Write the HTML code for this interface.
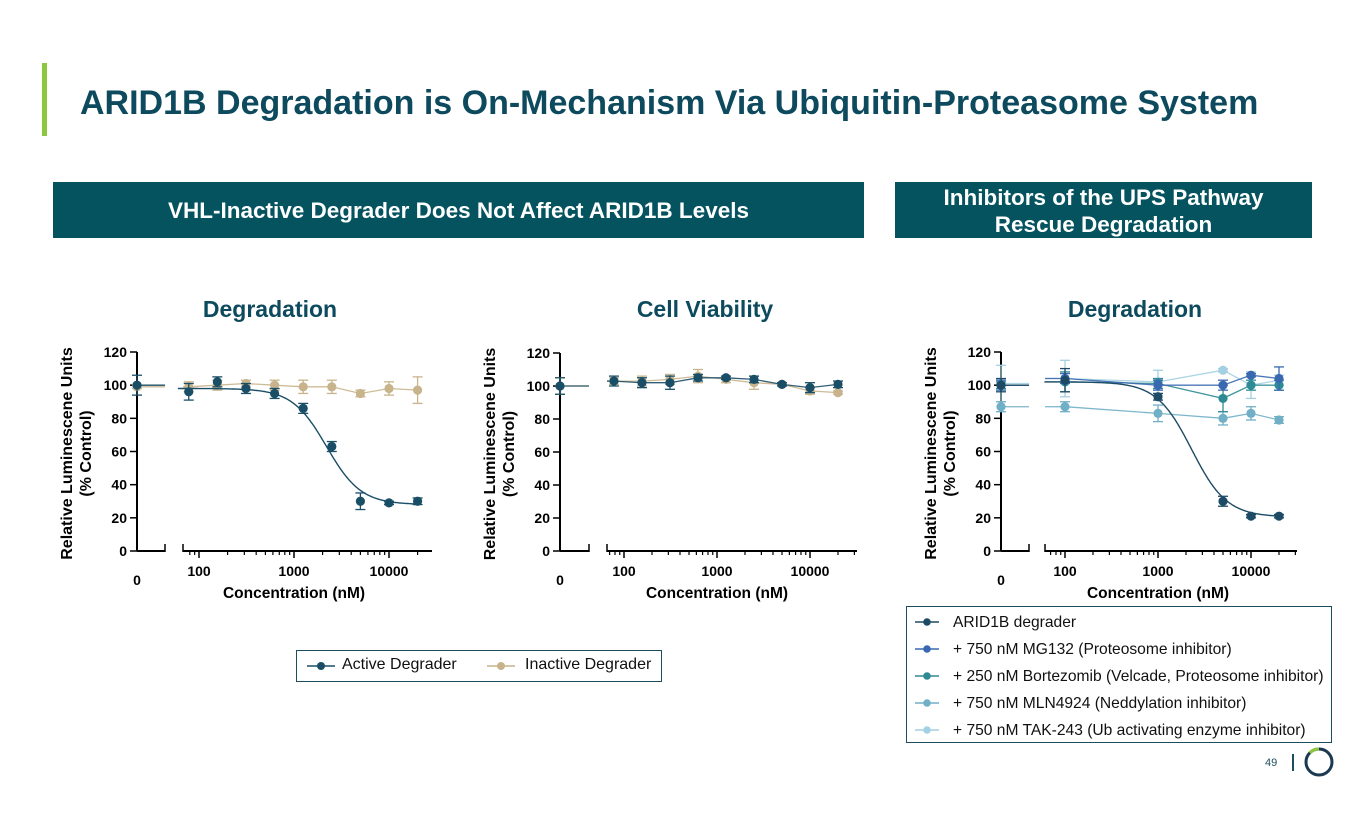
<!DOCTYPE html>
<html><head><meta charset="utf-8">
<style>
body{margin:0;width:1365px;height:829px;background:#fff;overflow:hidden;font-family:"Liberation Sans",Arial,sans-serif;position:relative}
.abs{position:absolute}
.hdr{background:#04535f;color:#fff;font-weight:bold;font-size:22.5px;text-align:center;display:flex;align-items:center;justify-content:center;line-height:27px}
.ct{color:#0d4a5e;font-weight:bold;font-size:23px;text-align:center}
.leg{border:1.5px solid #1d4e5f;box-sizing:border-box;font-size:15.6px;color:#111}
</style></head><body>
<div class="abs" style="left:42px;top:63px;width:5px;height:73px;background:#8dc63f"></div>
<div class="abs" style="left:80px;top:84px;font-size:34px;font-weight:bold;color:#0d4a5e;white-space:nowrap">ARID1B Degradation is On-Mechanism Via Ubiquitin-Proteasome System</div>
<div class="abs hdr" style="left:53px;top:182px;width:811px;height:56px">VHL-Inactive Degrader Does Not Affect ARID1B Levels</div>
<div class="abs hdr" style="left:895px;top:182px;width:417px;height:56px;padding-top:2px;box-sizing:border-box">Inhibitors of the UPS Pathway<br>Rescue Degradation</div>
<div class="abs ct" style="left:150px;top:296px;width:240px">Degradation</div>
<div class="abs ct" style="left:585px;top:296px;width:240px">Cell Viability</div>
<div class="abs ct" style="left:1015px;top:296px;width:240px">Degradation</div>
<svg id="sv" class="abs" style="left:0;top:0" width="1365" height="829"></svg>
<div class="abs leg" style="left:296px;top:650px;width:366px;height:32px">
 <svg class="abs" style="left:10px;top:8px" width="30" height="14"><line x1="0" y1="7" x2="28" y2="7" stroke="#1a4e66" stroke-width="1.5"/><circle cx="14" cy="7" r="4" fill="#1a4e66"/></svg>
 <span class="abs" style="left:45px;top:5px;font-size:16px">Active Degrader</span>
 <svg class="abs" style="left:190px;top:8px" width="30" height="14"><line x1="0" y1="7" x2="28" y2="7" stroke="#c8b48c" stroke-width="1.5"/><circle cx="14" cy="7" r="4" fill="#c8b48c"/></svg>
 <span class="abs" style="left:228px;top:5px;font-size:16px">Inactive Degrader</span>
</div>
<div class="abs leg" id="leg3" style="left:906px;top:606px;width:426px;height:137px"></div>
<div class="abs" style="left:1265px;top:757px;font-size:11px;color:#1d4e5f">49</div>
<div class="abs" style="left:1292px;top:754px;width:1.5px;height:17px;background:#1d4e5f"></div>
<svg class="abs" style="left:1303px;top:746px" width="32" height="32">
 <circle cx="16" cy="16" r="13" fill="none" stroke="#1b3a52" stroke-width="3"/>
 <path d="M6.8 6.8 A13 13 0 0 1 16 3" fill="none" stroke="#8dc63f" stroke-width="3.2"/>
</svg>
<script>
// ---- Chart 1 data ----
const c1Conc=[0,78,156,312,625,1250,2500,5000,10000,20000];
const c1Active=[100,96,102,98,95,86,63,30,29,30];
const c1ActiveErr=[6,5,3,3,3,3,3,5,1,2];
const c1Inactive=[99,99,100,101,100,99,99,95,98,97];
const c1InactiveErr=[1,3,3,2,3,4,4,2,4,8];
const c1Fit=[98,28,2200,2.4]; // top, bottom, ec50, hill
// ---- Chart 2 data ----
const c2Conc=[0,78,156,312,625,1250,2500,5000,10000,20000];
const c2Active=[100,103,102,102,105,105,104,101,99,101];
const c2ActiveErr=[5,3,3,4,2,1,2,1,3,2];
const c2Inactive=[100,103,103,104,106,104,102,101,97,96];
const c2InactiveErr=[5,2,3,3,4,2,4,1,2,1];
// ---- Chart 3 data ----
const c3Conc=[0,100,1000,5000,10000,20000];
const c3Degrader=[100,103,93,30,21,21];
const c3DegraderErr=[4,7,2,3,1,1];
const c3MG132=[100,104,100,100,106,104];
const c3MG132Err=[3,3,3,3,1,7];
const c3Bort=[100,102,101,92,100,100];
const c3BortErr=[2,6,3,8,3,3];
const c3MLN=[87,87,83,80,83,79];
const c3MLNErr=[3,3,5,4,4,2];
const c3TAK=[101,104,102,109,100,103];
const c3TAKErr=[11,11,7,1,8,3];
const c3Fit=[102,20.5,2300,2.3];
const yTicks=[0,20,40,60,80,100,120];
const xMajor=[100,1000,10000];
const xTickLabels=["100","1000","10000"];
const c3Names=["ARID1B degrader","+ 750 nM MG132 (Proteosome inhibitor)","+ 250 nM Bortezomib (Velcade, Proteosome inhibitor)","+ 750 nM MLN4924 (Neddylation inhibitor)","+ 750 nM TAK-243 (Ub activating enzyme inhibitor)"];

const NS="http://www.w3.org/2000/svg";
const sv=document.getElementById('sv');
function mk(tag,attrs,parent){const e=document.createElementNS(NS,tag);for(const k in attrs)e.setAttribute(k,attrs[k]);(parent||sv).appendChild(e);return e;}

function makeChart(o){
  const g=mk('g',{});
  
  
  const y=v=>o.y0-(v/120)*(o.y0-o.y120);
  const lx=v=>o.x100+(Math.log10(v)-2)*o.dec;
  const x=v=>v===0?o.ax:lx(v);
  mk('line',{x1:o.ax,y1:o.y120,x2:o.ax,y2:o.y0,stroke:'#000','stroke-width':2},g);
  yTicks.forEach(t=>{
    mk('line',{x1:o.ax-7,y1:y(t),x2:o.ax,y2:y(t),stroke:'#000','stroke-width':1.5},g);
    const tx=mk('text',{x:o.ax-10,y:y(t)+5,'text-anchor':'end','font-size':14,'font-weight':'bold'},g);tx.textContent=t;
    
    
  });
  const yl=mk('text',{transform:`translate(${o.ax-61},${(o.y0+o.y120)/2+2}) rotate(-90)`,'text-anchor':'middle','font-size':16,'font-weight':'bold'},g);
  
  
  const t1=mk('tspan',{x:0,dy:-4},yl);t1.textContent='Relative Luminescene Units';
  const t2=mk('tspan',{x:0,dy:19},yl);t2.textContent='(% Control)';
  mk('line',{x1:o.ax,y1:o.y0,x2:o.zEnd,y2:o.y0,stroke:'#000','stroke-width':2},g);
  mk('line',{x1:o.zEnd,y1:o.y0-7,x2:o.zEnd,y2:o.y0+1,stroke:'#000','stroke-width':1.5},g);
  const z=mk('text',{x:o.ax,y:o.y0+34,'text-anchor':'middle','font-size':14,'font-weight':'bold'},g);z.textContent='0';
  mk('line',{x1:o.ls,y1:o.y0,x2:o.le,y2:o.y0,stroke:'#000','stroke-width':2},g);
  mk('line',{x1:o.ls,y1:o.y0-7,x2:o.ls,y2:o.y0+1,stroke:'#000','stroke-width':1.5},g);
  for(let d=10;d<=10000;d*=10)for(let m=1;m<10;m++){const v=d*m,px=lx(v);if(px<o.ls+2||px>o.le)continue;
    const major=m===1;mk('line',{x1:px,y1:o.y0,x2:px,y2:o.y0+(major?7:4),stroke:'#000','stroke-width':major?1.5:1.2},g);}
  xMajor.forEach((v,i)=>{const t=mk('text',{x:lx(v),y:o.y0+25,'text-anchor':'middle','font-size':14,'font-weight':'bold'},g);t.textContent=xTickLabels[i];
    
    });
  const xt=mk('text',{x:lx(1000),y:o.y0+47,'text-anchor':'middle','font-size':15.5,'font-weight':'bold'},g);xt.textContent='Concentration (nM)';
  
  
  o.series.forEach(s=>{
    const sg=mk('g',{},g);
    
    
    if(s.fit){
      const [top,bot,ec,h]=s.fit;let d='';
      for(let lv=Math.log10(o.xmin);lv<=Math.log10(s.conc[s.conc.length-1]);lv+=0.01){const v=Math.pow(10,lv);const yy=bot+(top-bot)/(1+Math.pow(v/ec,h));d+=(d?'L':'M')+lx(v).toFixed(1)+' '+y(yy).toFixed(1);}
      mk('path',{d,fill:'none',stroke:s.color,'stroke-width':1.4},sg);
      mk('line',{x1:o.ax,y1:y(s.vals[0]),x2:o.zEnd,y2:y(s.vals[0]),stroke:s.color,'stroke-width':1.4},sg);
    } else {
      let d='M'+o.ax+' '+y(s.vals[0])+'L'+o.zEnd+' '+y(s.vals[0]);
      let p='';for(let i=1;i<s.conc.length;i++){p+=(p?'L':'M')+x(s.conc[i]).toFixed(1)+' '+y(s.vals[i]).toFixed(1);}
      mk('path',{d:d,fill:'none',stroke:s.color,'stroke-width':1.3,opacity:0.9},sg);
      mk('path',{d:'M'+o.ls+' '+y(s.vals[1])+p.replace('M','L'),fill:'none',stroke:s.color,'stroke-width':1.3,opacity:0.9},sg);
    }
    s.conc.forEach((c,i)=>{
      const px=x(c),py=y(s.vals[i]),e=s.err[i];
      mk('line',{x1:px,y1:y(s.vals[i]+e),x2:px,y2:y(s.vals[i]-e),stroke:s.color,'stroke-width':1.3},sg);
      mk('line',{x1:px-5,y1:y(s.vals[i]+e),x2:px+5,y2:y(s.vals[i]+e),stroke:s.color,'stroke-width':1.3},sg);
      mk('line',{x1:px-5,y1:y(s.vals[i]-e),x2:px+5,y2:y(s.vals[i]-e),stroke:s.color,'stroke-width':1.3},sg);
      const pt=mk('circle',{cx:px,cy:py,r:4.6,fill:s.color},sg);
      
      
    });
  });
}
const DARK='#1a4e66',TAN='#c8b48c';
makeChart({name:'chart1-degradation',ax:137,y0:551,y120:352,zEnd:165,ls:183,le:432,x100:199,dec:95,xmin:60,
  series:[{name:'inactive-degrader',conc:c1Conc,vals:c1Inactive,err:c1InactiveErr,color:TAN},
          {name:'active-degrader',conc:c1Conc,vals:c1Active,err:c1ActiveErr,color:DARK,fit:c1Fit}]});
makeChart({name:'chart2-viability',ax:560,y0:551,y120:353,zEnd:589,ls:607,le:857,x100:624,dec:93,xmin:60,
  series:[{name:'inactive-degrader',conc:c2Conc,vals:c2Inactive,err:c2InactiveErr,color:TAN},
          {name:'active-degrader',conc:c2Conc,vals:c2Active,err:c2ActiveErr,color:DARK}]});
const c3Colors=['#1d4b66','#3a68b0','#2e8b94','#70afc6','#a3d0e2'];
makeChart({name:'chart3-ups-degradation',ax:1001,y0:551,y120:352,zEnd:1029,ls:1045,le:1297,x100:1065,dec:93,xmin:60,
  series:[{name:'tak243',conc:c3Conc,vals:c3TAK,err:c3TAKErr,color:c3Colors[4]},
          {name:'mln4924',conc:c3Conc,vals:c3MLN,err:c3MLNErr,color:c3Colors[3]},
          {name:'bortezomib',conc:c3Conc,vals:c3Bort,err:c3BortErr,color:c3Colors[2]},
          {name:'mg132',conc:c3Conc,vals:c3MG132,err:c3MG132Err,color:c3Colors[1]},
          {name:'arid1b-degrader',conc:c3Conc,vals:c3Degrader,err:c3DegraderErr,color:c3Colors[0],fit:c3Fit}]});
const leg=document.getElementById('leg3');
c3Names.forEach((n,i)=>{
  const row=document.createElement('div');
  
  
  row.style.cssText=`position:absolute;left:0;top:${7+i*27}px;height:20px;width:420px`;
  row.innerHTML=`<svg style="position:absolute;left:8px;top:1px" width="26" height="14"><line x1="0" y1="7" x2="24" y2="7" stroke="${c3Colors[i]}" stroke-width="1.5"/><circle cx="12" cy="7" r="3.8" fill="${c3Colors[i]}"/></svg><span style="position:absolute;left:46px;top:0px;white-space:nowrap">${n}</span>`;
  leg.appendChild(row);
});
</script>
</body></html>
